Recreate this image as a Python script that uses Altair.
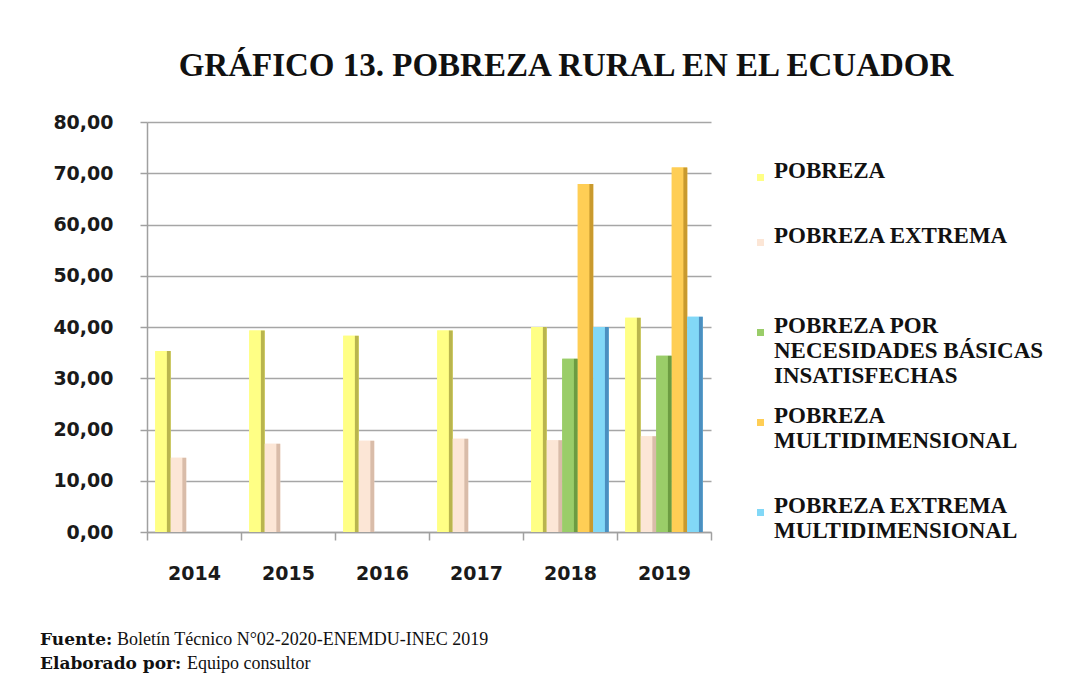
import json
import altair as alt
import pandas as pd

# ---------------- data ----------------
years = ["2014", "2015", "2016", "2017", "2018", "2019"]
series = [
    "POBREZA",
    "POBREZA EXTREMA",
    "POBREZA POR NECESIDADES BÁSICAS INSATISFECHAS",
    "POBREZA MULTIDIMENSIONAL",
    "POBREZA EXTREMA MULTIDIMENSIONAL",
]
pobreza = [35.3, 39.3, 38.3, 39.3, 40.0, 41.8]
pobreza_extrema = [14.5, 17.2, 17.8, 18.2, 17.9, 18.7]
pobreza_nbi = [None, None, None, None, 33.8, 34.4]
pobreza_multi = [None, None, None, None, 67.9, 71.1]
pobreza_ext_multi = [None, None, None, None, 40.0, 42.0]

legend_lines = {
    "POBREZA": ["POBREZA", ""],
    "POBREZA EXTREMA": ["POBREZA EXTREMA", "", ""],
    "POBREZA POR NECESIDADES BÁSICAS INSATISFECHAS": ["POBREZA POR", "NECESIDADES BÁSICAS", "INSATISFECHAS"],
    "POBREZA MULTIDIMENSIONAL": ["POBREZA", "MULTIDIMENSIONAL", ""],
    "POBREZA EXTREMA MULTIDIMENSIONAL": ["POBREZA EXTREMA", "MULTIDIMENSIONAL"],
}

face_colors = ["#FFFF85", "#FCE6D6", "#9ACD69", "#FFCE55", "#82D8F7"]
side_colors = ["#B9B54E", "#D9BCA9", "#6C9C42", "#C99A2E", "#4B8FC0"]

title_text = "GRÁFICO 13. POBREZA RURAL EN EL ECUADOR"
footer_bold = ["Fuente:", "Elaborado por:"]
footer_rest = ["Boletín Técnico N°02-2020-ENEMDU-INEC 2019", "Equipo consultor"]

# ---------------- table ----------------
rows = []
for s, vals in zip(series, [pobreza, pobreza_extrema, pobreza_nbi, pobreza_multi, pobreza_ext_multi]):
    for y, v in zip(years, vals):
        if v is not None:
            rows.append({"year": y, "series": s, "value": v})
df = pd.DataFrame(rows)

label_expr = json.dumps(legend_lines, ensure_ascii=False) + "[datum.label]"

x_enc = alt.X(
    "year:N",
    sort=years,
    scale=alt.Scale(paddingInner=0, paddingOuter=0),
    axis=alt.Axis(
        title=None, labelAngle=0, tickBand="extent", grid=False,
        labelFont="DejaVu Sans", labelFontSize=19, labelFontWeight="bold",
        labelColor="#1a1a1a", domainColor="#A0A0A0", domainWidth=1.5,
        tickColor="#A0A0A0", tickWidth=1.5, tickSize=8, labelPadding=24,
    ),
)
xoff_enc = alt.XOffset(
    "series:N",
    scale=alt.Scale(domain=series, paddingInner=0, paddingOuter=0.53),
)
y_enc = alt.Y(
    "value:Q",
    scale=alt.Scale(domain=[0, 80], nice=False),
    axis=alt.Axis(
        title=None, values=list(range(0, 81, 10)),
        labelExpr="replace(format(datum.value, '.2f'), '.', ',')",
        labelFont="DejaVu Sans", labelFontSize=19, labelFontWeight="bold",
        labelColor="#1a1a1a", grid=True, gridColor="#A6A6A6", gridWidth=1.5,
        domainColor="#A0A0A0", domainWidth=1.5, tickColor="#A0A0A0",
        tickWidth=1.5, tickSize=7, labelPadding=27,
    ),
)

base = alt.Chart(df).encode(x=x_enc, xOffset=xoff_enc, y=y_enc)

bars = base.mark_bar(xOffset=6).encode(
    color=alt.Color(
        "series:N",
        scale=alt.Scale(domain=series, range=face_colors),
        legend=alt.Legend(
            title=None, orient="none", legendX=602, legendY=44, padding=0,
            labelFont="Liberation Serif", labelFontSize=23, labelFontWeight="bold",
            labelColor="#111111", labelLimit=500, labelBaseline="alphabetic",
            labelExpr=label_expr, symbolType="square", symbolSize=49,
            symbolStrokeWidth=0, rowPadding=16, labelOffset=2,
        ),
    )
)

overlays = []
for s, fc, sc in zip(series, face_colors, side_colors):
    grad = alt.Gradient(
        gradient="linear", x1=0, x2=1, y1=0, y2=0,
        stops=[
            alt.GradientStop(offset=0, color=fc),
            alt.GradientStop(offset=0.72, color=fc),
            alt.GradientStop(offset=0.78, color=sc),
            alt.GradientStop(offset=1, color=sc),
        ],
    )
    overlays.append(
        base.transform_filter(alt.datum.series == s).mark_bar(xOffset=6, color=grad)
    )

footer_layers = []
bold_x = [-107, -107]
rest_x = [-30, 40]
line_y = [518, 542]
for i in range(2):
    footer_layers.append(
        alt.Chart(pd.DataFrame({"t": [footer_bold[i]]})).mark_text(
            align="left", baseline="middle", font="DejaVu Serif",
            fontSize=17, fontWeight="bold", color="#111111",
        ).encode(x=alt.value(bold_x[i]), y=alt.value(line_y[i]), text="t:N")
    )
    footer_layers.append(
        alt.Chart(pd.DataFrame({"t": [footer_rest[i]]})).mark_text(
            align="left", baseline="middle", font="Liberation Serif",
            fontSize=18, color="#111111",
        ).encode(x=alt.value(rest_x[i]), y=alt.value(line_y[i]), text="t:N")
    )

chart = alt.layer(bars, *overlays, *footer_layers).properties(
    width=564,
    height=410,
    autosize="none",
    padding={"left": 139, "top": 114, "right": 354, "bottom": 151},
    title=alt.TitleParams(
        text=title_text, font="Liberation Serif", fontSize=33,
        fontWeight="bold", color="#111111", anchor="middle",
        frame="group", dx=137, offset=30,
    ),
    background="white",
).configure_view(stroke=None)

chart.save("out.html", embed_options={"renderer": "svg", "actions": False})
